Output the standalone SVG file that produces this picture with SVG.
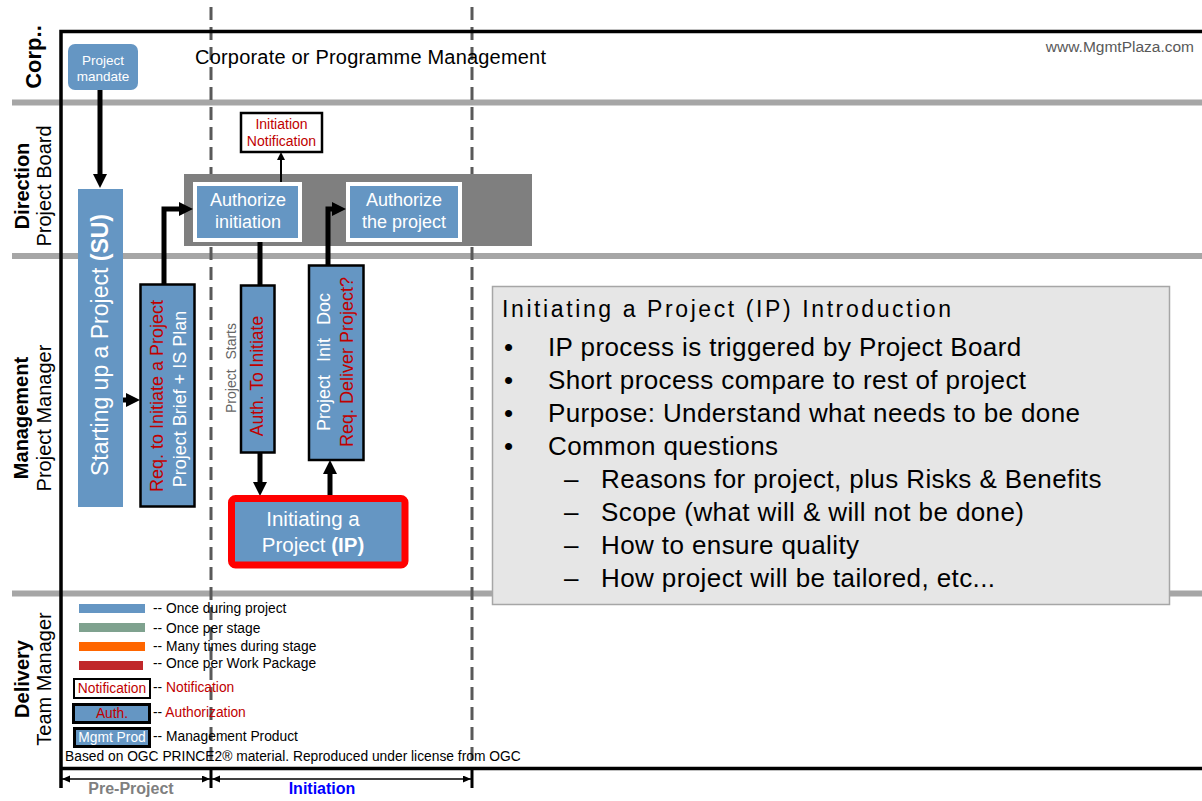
<svg xmlns="http://www.w3.org/2000/svg" width="1202" height="801" viewBox="0 0 1202 801">
<defs>
<style>
text{font-family:"Liberation Sans",Arial,sans-serif}
.sep{stroke:#a6a6a6;stroke-width:6}
.dash{stroke:#595959;stroke-width:3;stroke-dasharray:13 7}
.frame{stroke:#000;stroke-width:3.5;fill:none}
.tick{stroke:#000;stroke-width:3}
.dim{stroke:#000;stroke-width:1.5;fill:none}
.bx{fill:#6596c3;stroke:#000;stroke-width:2.5}
.auth{fill:#6596c3;stroke:#fff;stroke-width:4}
.con{fill:none;stroke:#000;stroke-width:5}
.thin{fill:none;stroke:#000;stroke-width:2}
.wt{fill:#fff}
.rd{fill:#c00000}
.nodet{font-size:18px;fill:#fff;text-anchor:middle}
.bul{font-size:26px;fill:#000;letter-spacing:0.4px}
.leg{font-size:13.8px;fill:#000}
.lane{font-size:20px;fill:#000;text-anchor:middle}
</style>
<marker id="ah" markerUnits="userSpaceOnUse" markerWidth="15" markerHeight="15" refX="0" refY="7" orient="auto"><path d="M0,0L14,7L0,14z" fill="#000"/></marker>
<marker id="as" markerUnits="userSpaceOnUse" markerWidth="9" markerHeight="9" refX="0" refY="4" orient="auto"><path d="M0,0L8,4L0,8z" fill="#000"/></marker>
<marker id="ad" markerUnits="userSpaceOnUse" markerWidth="9" markerHeight="8" refX="8" refY="3.5" orient="auto-start-reverse"><path d="M0,0L8,3.5L0,7z" fill="#000"/></marker>
</defs>
<rect width="1202" height="801" fill="#fff"/>

<g id="lanes">
<line class="sep" x1="12" y1="102.5" x2="1202" y2="102.5"/>
<line class="sep" x1="12" y1="256" x2="1202" y2="256"/>
<line class="sep" x1="12" y1="593.5" x2="1202" y2="593.5"/>
<line class="dash" x1="211" y1="7" x2="211" y2="766"/>
<line class="dash" x1="472" y1="7" x2="472" y2="766"/>
<path class="frame" d="M1202,31.5H61V788M61,768.5H1202"/>
<line class="tick" x1="211" y1="767" x2="211" y2="788"/>
<line class="tick" x1="472" y1="767" x2="472" y2="788"/>
<text transform="translate(41,57) rotate(-90)" font-size="22" font-weight="bold" text-anchor="middle">Corp..</text>
<text class="lane" transform="translate(29,186) rotate(-90)" font-weight="bold">Direction</text>
<text class="lane" transform="translate(51,186) rotate(-90)">Project Board</text>
<text class="lane" transform="translate(28,418) rotate(-90)" font-weight="bold">Management</text>
<text class="lane" transform="translate(51,418) rotate(-90)">Project Manager</text>
<text class="lane" transform="translate(29,679) rotate(-90)" font-weight="bold">Delivery</text>
<text class="lane" transform="translate(51,679) rotate(-90)">Team Manager</text>
<text x="195" y="64" font-size="20" letter-spacing="0.2">Corporate or Programme Management</text>
<text x="1194" y="52" font-size="15.5" fill="#595959" text-anchor="end">www.MgmtPlaza.com</text>
<rect x="184" y="174" width="348" height="72" fill="#7f7f7f"/>
</g>

<g id="connectors">
<line class="con" x1="100" y1="90" x2="100" y2="174" marker-end="url(#ah)"/>
<line class="con" x1="123" y1="400" x2="126" y2="400" marker-end="url(#ah)"/>
<polyline class="con" points="164,284 164,209 179,209" marker-end="url(#ah)"/>
<line class="thin" x1="281" y1="182" x2="281" y2="160" marker-end="url(#as)"/>
<line class="con" x1="260" y1="242" x2="260" y2="285"/>
<line class="con" x1="260" y1="453" x2="260" y2="482" marker-end="url(#ah)"/>
<line class="con" x1="330" y1="495" x2="330" y2="474" marker-end="url(#ah)"/>
<polyline class="con" points="328,265 328,209 332,209" marker-end="url(#ah)"/>
</g>

<g id="mandate">
<rect x="68" y="44" width="70" height="46" rx="7" fill="#6596c3"/>
<text x="103" y="65" font-size="13.5" class="wt" text-anchor="middle">Project</text>
<text x="103" y="81" font-size="13.5" class="wt" text-anchor="middle">mandate</text>
</g>

<g id="su">
<rect x="78" y="189" width="45" height="318" fill="#6596c3"/>
<text transform="translate(100,345) rotate(-90)" y="8" font-size="23" class="wt" text-anchor="middle">Starting up a Project <tspan font-weight="bold">(SU)</tspan></text>
</g>

<g id="req">
<rect class="bx" x="140.5" y="284.5" width="54" height="222"/>
<text transform="translate(163,396) rotate(-90)" font-size="18" class="rd" text-anchor="middle">Req. to Initiate a Project</text>
<text transform="translate(185.5,399) rotate(-90)" font-size="18" class="wt" text-anchor="middle">Project Brief + IS Plan</text>
</g>

<g id="auth-init">
<rect class="auth" x="195" y="184" width="105" height="56"/>
<text class="nodet" x="248" y="206">Authorize</text>
<text class="nodet" x="248" y="228">initiation</text>
</g>

<g id="auth-project">
<rect class="auth" x="348" y="184" width="112" height="56"/>
<text class="nodet" x="404" y="206">Authorize</text>
<text class="nodet" x="404" y="228">the project</text>
</g>

<g id="notification">
<rect x="241" y="113" width="81" height="39" fill="#fff" stroke="#000" stroke-width="2.5"/>
<text x="281.5" y="129" font-size="14" class="rd" text-anchor="middle">Initiation</text>
<text x="281.5" y="146" font-size="14" class="rd" text-anchor="middle">Notification</text>
</g>

<g id="auth-to-initiate">
<rect class="bx" x="241" y="285.5" width="33.5" height="167"/>
<text transform="translate(263,376) rotate(-90)" font-size="17.5" class="rd" text-anchor="middle">Auth. To Initiate</text>
</g>

<g id="project-starts">
<text transform="translate(236,368) rotate(-90)" font-size="14" fill="#666" text-anchor="middle" word-spacing="6">Project Starts</text>
</g>

<g id="pid">
<rect class="bx" x="309" y="265.5" width="54.5" height="194.5"/>
<text transform="translate(330,362) rotate(-90)" font-size="18" class="wt" text-anchor="middle" word-spacing="8">Project Init Doc</text>
<text transform="translate(353,362) rotate(-90)" font-size="18" class="rd" text-anchor="middle">Req. Deliver Project?</text>
</g>

<g id="ip">
<rect x="231.5" y="498.5" width="173.5" height="66.5" rx="4" fill="#6596c3" stroke="#ff0000" stroke-width="7"/>
<text x="313" y="526" font-size="20.5" class="wt" text-anchor="middle">Initiating a</text>
<text x="313" y="552" font-size="20.5" class="wt" text-anchor="middle">Project <tspan font-weight="bold">(IP)</tspan></text>
</g>

<g id="info">
<rect x="492.5" y="286.5" width="677" height="318" fill="#e6e6e6" stroke="#a6a6a6" stroke-width="1.5"/>
<text x="502" y="317" font-family="Liberation Serif, Times New Roman, serif" font-size="23" letter-spacing="2.6">Initiating a Project (IP) Introduction</text>
<g class="bul">
<text x="504" y="356">•</text><text x="548" y="356">IP process is triggered by Project Board</text>
<text x="504" y="389">•</text><text x="548" y="389">Short process compare to rest of project</text>
<text x="504" y="422">•</text><text x="548" y="422">Purpose: Understand what needs to be done</text>
<text x="504" y="455">•</text><text x="548" y="455">Common questions</text>
<text x="564" y="488">–</text><text x="601" y="488">Reasons for project, plus Risks &amp; Benefits</text>
<text x="564" y="521">–</text><text x="601" y="521">Scope (what will &amp; will not be done)</text>
<text x="564" y="554">–</text><text x="601" y="554">How to ensure quality</text>
<text x="564" y="587">–</text><text x="601" y="587">How project will be tailored, etc...</text>
</g>
</g>

<g id="legend">
<rect x="79" y="604" width="66" height="9" fill="#6596c3"/>
<rect x="79" y="623" width="66" height="9" fill="#7fa28f"/>
<rect x="79" y="642" width="66" height="9" fill="#ff6600"/>
<rect x="79" y="661" width="64" height="9" fill="#c0282a"/>
<text class="leg" x="153" y="613">-- Once during project</text>
<text class="leg" x="153" y="633">-- Once per stage</text>
<text class="leg" x="153" y="651">-- Many times during stage</text>
<text class="leg" x="153" y="668">-- Once per Work Package</text>
<rect x="74" y="679" width="76" height="19" fill="#fff" stroke="#000" stroke-width="2"/>
<text x="112" y="693" font-size="13.8" class="rd" text-anchor="middle">Notification</text>
<text class="leg" x="153" y="692">-- <tspan class="rd">Notification</tspan></text>
<rect x="73.5" y="704.5" width="76" height="18" fill="#6596c3" stroke="#000" stroke-width="3"/>
<text x="112" y="718" font-size="13.8" class="rd" text-anchor="middle">Auth.</text>
<text class="leg" x="153" y="717">-- <tspan class="rd">Authorization</tspan></text>
<rect x="74.5" y="728.5" width="75" height="18" fill="#6596c3" stroke="#000" stroke-width="3"/>
<text x="112" y="742" font-size="13.8" class="wt" text-anchor="middle">Mgmt Prod</text>
<text class="leg" x="153" y="741">-- Management Product</text>
<text class="leg" x="65" y="761" font-size="13.7">Based on OGC PRINCE2® material. Reproduced under license from OGC</text>
</g>

<g id="phases">
<line class="dim" x1="62" y1="779" x2="210" y2="779" marker-start="url(#ad)" marker-end="url(#ad)"/>
<line class="dim" x1="212" y1="779" x2="471" y2="779" marker-start="url(#ad)" marker-end="url(#ad)"/>
<text x="131" y="794" font-size="16" font-weight="bold" fill="#7f7f7f" text-anchor="middle">Pre-Project</text>
<text x="322" y="794" font-size="16" font-weight="bold" fill="#0000ff" text-anchor="middle">Initiation</text>
</g>
</svg>
